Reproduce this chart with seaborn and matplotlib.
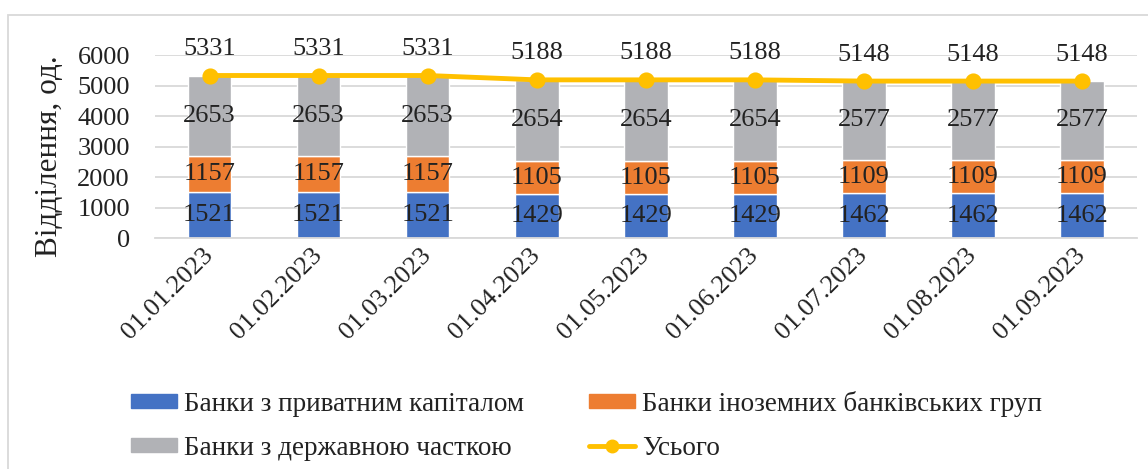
import matplotlib
matplotlib.use('Agg')
import matplotlib.pyplot as plt
import seaborn as sns
from matplotlib.patches import Patch, Rectangle
from matplotlib.lines import Line2D

# Data
dates = ['01.01.2023', '01.02.2023', '01.03.2023', '01.04.2023', '01.05.2023',
         '01.06.2023', '01.07.2023', '01.08.2023', '01.09.2023']
private = [1521, 1521, 1521, 1429, 1429, 1429, 1462, 1462, 1462]
foreign = [1157, 1157, 1157, 1105, 1105, 1105, 1109, 1109, 1109]
state = [2653, 2653, 2653, 2654, 2654, 2654, 2577, 2577, 2577]
total = [5331, 5331, 5331, 5188, 5188, 5188, 5148, 5148, 5148]

series_names = ['Банки з приватним капіталом', 'Банки іноземних банківських груп',
                'Банки з державною часткою', 'Усього']
colors = ['#4472C4', '#ED7D31', '#B1B2B6', '#FFC000']

sns.set_theme(style='white')
fam = 'Liberation Serif'
plt.rcParams['font.family'] = fam
fs = 19
tc = '#222222'

fig = plt.figure(figsize=(11.48, 4.69), dpi=100)
ax = fig.add_axes([0.135, 0.4925, 0.855, 0.39])

# Stacked bars
bottom_foreign = private
bottom_state = [a + b for a, b in zip(private, foreign)]
sns.barplot(x=dates, y=private, color=colors[0], width=0.4, saturation=1, ax=ax)
sns.barplot(x=dates, y=foreign, bottom=bottom_foreign, color=colors[1], width=0.4, saturation=1, ax=ax)
sns.barplot(x=dates, y=state, bottom=bottom_state, color=colors[2], width=0.4, saturation=1, ax=ax)

# Total line
sns.pointplot(x=dates, y=total, color=colors[3], markers='o', markersize=9,
              linewidth=3.5, ax=ax)

# Data labels
for i in range(len(dates)):
    ax.text(i, private[i] / 2, str(private[i]), ha='center', va='center',
            fontsize=fs, color=tc, family=fam)
    ax.text(i, bottom_foreign[i] + foreign[i] / 2, str(foreign[i]), ha='center', va='center',
            fontsize=fs, color=tc, family=fam)
    ax.text(i, bottom_state[i] + state[i] / 2, str(state[i]), ha='center', va='center',
            fontsize=fs, color=tc, family=fam)
    ax.annotate(str(total[i]), (i, total[i]), xytext=(0, 19), textcoords='offset points',
                ha='center', va='center', fontsize=fs, color=tc, family=fam,
                annotation_clip=False)

ax.set_ylim(0, 6000)
ax.set_yticks(range(0, 6001, 1000))
ax.set_xlim(-0.5, len(dates) - 0.5)
ax.yaxis.grid(True, color='#D9D9D9', linewidth=1.3)
ax.set_axisbelow(True)
for s in ['top', 'right', 'left']:
    ax.spines[s].set_visible(False)
ax.spines['bottom'].set_color('#D9D9D9')
ax.spines['bottom'].set_linewidth(1.3)
ax.tick_params(axis='y', length=0, pad=18, labelsize=fs, labelcolor=tc)
ax.tick_params(axis='x', length=0, pad=10, labelsize=fs, labelcolor=tc)
for lab in ax.get_xticklabels():
    lab.set_fontfamily(fam)
    lab.set_rotation(45)
    lab.set_ha('right')
    lab.set_va('center')
    lab.set_rotation_mode('anchor')
for lab in ax.get_yticklabels():
    lab.set_fontfamily(fam)
ax.set_ylabel('Відділення, од.', fontsize=22.5, color=tc, family=fam)
ax.yaxis.set_label_coords(-0.093, 0.45)
ax.set_xlabel('')

# Legend, filled row by row like the original
handles = [Patch(color=colors[0]), Patch(color=colors[2]), Patch(color=colors[1]),
           Line2D([0], [0], color=colors[3], marker='o', markersize=9, linewidth=3.5)]
labels = [series_names[0], series_names[2], series_names[1], series_names[3]]
fig.legend(handles, labels, loc='upper left', bbox_to_anchor=(0.105, 0.19),
           ncol=2, frameon=False, prop={'family': fam, 'size': 19.5},
           handlelength=1.7, handleheight=0.4, handletextpad=0.25,
           columnspacing=2.4, labelspacing=0.7, borderaxespad=0, labelcolor=tc)

# Chart border (only left and top are inside the picture)
fig.patches.append(Rectangle((8 / 1148, -0.1), 1.2, 1 - 15 / 469 + 0.1, transform=fig.transFigure,
                             fill=False, edgecolor='#D9D9D9', linewidth=1.3))

fig.savefig('out.png', dpi=100)
